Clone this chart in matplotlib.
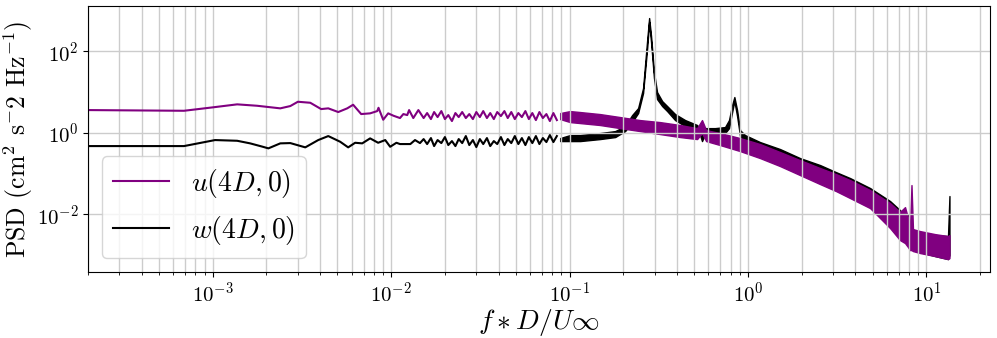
import matplotlib
matplotlib.use("Agg")
import matplotlib.pyplot as plt
from matplotlib.ticker import LogLocator, NullLocator

plt.rcParams['font.family'] = 'serif'
plt.rcParams['font.serif'] = ['cmr10']
plt.rcParams['mathtext.fontset'] = 'cm'
plt.rcParams['axes.formatter.use_mathtext'] = True

# u(4D,0): smooth low-frequency part
u_f_low = [2.0e-4, 6.9e-4, 1.0e-3, 1.37e-3, 1.77e-3, 2.39e-3, 2.72e-3, 3.0e-3, 3.52e-3,
           4.05e-3, 4.44e-3, 5.05e-3, 5.67e-3, 6.12e-3, 6.79e-3, 7.62e-3, 8.35e-3, 8.49e-3,
           9.02e-3, 9.62e-3, 1.03e-2, 1.12e-2, 1.17e-2, 1.23e-2, 1.26e-2, 1.33e-2, 1.42e-2]
u_psd_low = [3.61, 3.47, 4.21, 4.99, 4.61, 3.98, 4.53, 5.78, 5.46,
             3.82, 3.98, 3.23, 3.98, 4.88, 2.88, 3.00, 3.41, 4.11,
             2.09, 3.00, 2.62, 2.30, 2.88, 2.72, 3.61, 2.30, 3.61]

# noisy middle part, shared frequencies
f_zig = [0.0152, 0.0159, 0.0167, 0.0174, 0.0182, 0.0191, 0.0200, 0.0209, 0.0219, 0.0229,
         0.0239, 0.0250, 0.0262, 0.0274, 0.0287, 0.0300, 0.0314, 0.0328, 0.0344, 0.0359,
         0.0376, 0.0393, 0.0412, 0.0431, 0.0450, 0.0471, 0.0493, 0.0516, 0.0540,
         0.0565, 0.0591, 0.0618, 0.0647, 0.0677, 0.0708, 0.0741, 0.0775, 0.0811, 0.0848]
u_zig = [2.30, 3.05, 2.17, 3.23, 2.43, 3.41, 2.17, 2.72, 1.94,
         3.05, 2.43, 3.23, 2.30, 2.88, 2.17, 3.23, 2.43, 3.41, 2.30,
         3.05, 2.17, 3.23, 2.57, 3.41, 2.30, 3.23, 2.17, 3.05, 2.43,
         3.41, 2.17, 3.05, 2.05, 3.23, 2.30, 2.88, 1.94, 3.05, 2.05]
w_zig = [0.700, 0.528, 0.741, 0.471, 0.662, 0.558, 0.784, 0.499, 0.625,
         0.471, 0.700, 0.558, 0.830, 0.499, 0.662, 0.445, 0.700, 0.528, 0.741,
         0.471, 0.625, 0.528, 0.784, 0.499, 0.700, 0.558, 0.830, 0.528, 0.741,
         0.499, 0.784, 0.558, 0.830, 0.528, 0.741, 0.591, 0.878, 0.591, 0.830]

# dense high-frequency part: upper / lower envelope
u_f_band = [0.0885, 0.1006, 0.1145, 0.148, 0.192, 0.248, 0.321, 0.416, 0.518, 0.552,
            0.582, 0.697, 0.902, 1.167, 1.511, 1.955, 2.532, 3.11, 3.73, 4.83,
            6.25, 7.10, 7.58, 7.88, 8.08, 8.24, 8.40, 9.20, 11.16, 13.20, 13.45]
u_hi = [3.05, 3.41, 3.23, 2.88, 2.43, 2.05, 1.83, 1.55, 1.30, 2.05,
        1.16, 0.983, 0.741, 0.528, 0.336, 0.213, 0.136, 0.0967, 0.0689, 0.0391,
        0.0187, 0.0113, 0.0149, 0.00802, 0.00455, 0.0519, 0.0043, 0.00384, 0.00324, 0.0029, 0.00306]
u_lo = [2.17, 1.83, 1.73, 1.55, 1.30, 1.10, 0.929, 0.784, 0.700, 0.983,
        0.625, 0.499, 0.355, 0.239, 0.152, 0.0914, 0.0549, 0.0370, 0.0249, 0.0141,
        0.00455, 0.00231, 0.00195, 0.00155, 0.00131, 0.00131, 0.00124, 0.00111, 0.000935, 0.000788, 0.000834]

# w(4D,0)
w_f_low = [2.0e-4, 6.9e-4, 1.03e-3, 1.37e-3, 1.62e-3, 1.89e-3, 2.05e-3, 2.39e-3, 2.72e-3,
           3.30e-3, 3.90e-3, 4.44e-3, 5.18e-3, 5.74e-3, 6.28e-3, 6.88e-3, 7.62e-3, 8.45e-3,
           9.26e-3, 9.87e-3, 1.07e-2, 1.12e-2, 1.28e-2, 1.36e-2, 1.45e-2]
w_psd_low = [0.471, 0.471, 0.662, 0.636, 0.549, 0.458, 0.414, 0.549, 0.558,
             0.438, 0.662, 0.830, 0.601, 0.438, 0.568, 0.549, 0.728, 0.568,
             0.662, 0.453, 0.568, 0.528, 0.528, 0.662, 0.558]

w_f_band = [0.0885, 0.1006, 0.1145, 0.148, 0.180, 0.2046, 0.224, 0.242, 0.258, 0.272,
            0.279, 0.286, 0.297, 0.309, 0.330, 0.352, 0.390, 0.444, 0.518, 0.538,
            0.552, 0.574, 0.653, 0.743, 0.782, 0.814, 0.838, 0.868, 0.902, 0.962,
            1.167, 1.511, 1.955, 2.532, 3.11, 3.73, 4.83, 6.25, 7.10, 7.58,
            7.88, 8.19, 9.20, 11.16, 13.20, 13.45]
w_hi = [0.741, 0.878, 0.878, 0.983, 1.10, 1.46, 2.72, 4.04, 12.5, 189,
        658, 238, 31.0, 10.0, 6.01, 4.53, 2.88, 2.05, 1.55, 1.23,
        0.878, 1.30, 1.30, 1.38, 2.05, 4.80, 7.54, 3.61, 1.16, 0.878,
        0.591, 0.398, 0.239, 0.161, 0.108, 0.0771, 0.0438, 0.0210, 0.0126, 0.00899,
        0.00951, 0.0043, 0.00363, 0.00306, 0.0029, 0.0279]
w_lo = [0.625, 0.625, 0.625, 0.700, 0.784, 1.10, 1.83, 3.05, 9.45, 121,
        525, 169, 22.1, 6.73, 4.53, 3.41, 2.05, 1.46, 1.10, 0.878,
        0.625, 0.929, 0.929, 0.983, 1.30, 3.23, 6.01, 2.57, 0.830, 0.625,
        0.376, 0.239, 0.121, 0.0771, 0.0519, 0.0349, 0.0198, 0.0064, 0.00363, 0.0029,
        0.00231, 0.00147, 0.00117, 0.000935, 0.000788, 0.000989]

fig = plt.figure(figsize=(9.97, 3.38), dpi=100)
ax = fig.add_axes([0.0883, 0.1953, 0.9047, 0.7869])

# w first so that u sits on top in the dense band
ax.fill_between(w_f_band, w_lo, w_hi, color='k', lw=1.0)
w_line, = ax.plot(w_f_low + f_zig, w_psd_low + w_zig, color='k', lw=1.5)
ax.fill_between(u_f_band, u_lo, u_hi, color='purple', lw=1.0)
u_line, = ax.plot(u_f_low + f_zig, u_psd_low + u_zig, color='purple', lw=1.5)

ax.set_xscale('log')
ax.set_yscale('log')
ax.set_xlim(2.0e-4, 22.7)
ax.set_ylim(3.8e-4, 1.3e3)
ax.set_yticks([1e-2, 1e0, 1e2])
ax.yaxis.set_minor_locator(NullLocator())
ax.xaxis.set_minor_locator(LogLocator(subs=range(2, 10), numticks=20))

ax.grid(True, which='major', color='#cccccc', lw=1.0)
ax.xaxis.grid(True, which='minor', color='#cccccc', lw=1.0)
ax.tick_params(labelsize=15)

ax.set_xlabel(r'$f*D/U\infty$', fontsize=20, labelpad=1)
ax.set_ylabel(r'PSD (cm$^2$ s$^{-}$2 Hz$^{-1}$)', fontsize=18.5, labelpad=1)
ax.legend([u_line, w_line], [r'$u(4D,0)$', r'$w(4D,0)$'], loc='lower left', fontsize=20)

fig.savefig('out.png', dpi=100)
